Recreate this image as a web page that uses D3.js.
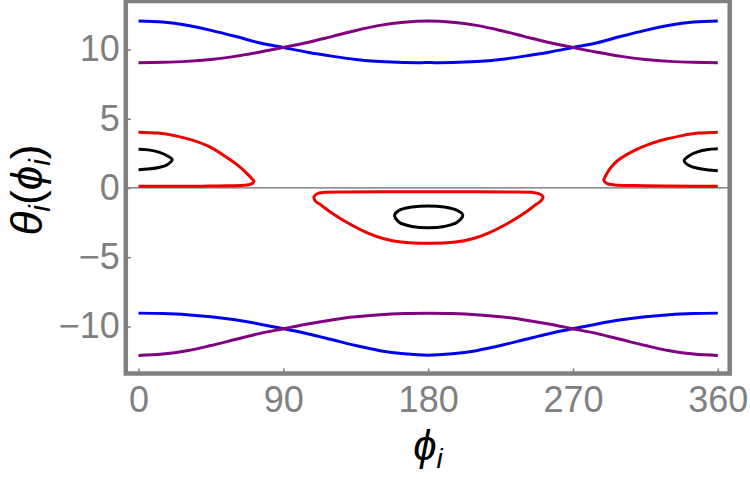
<!DOCTYPE html>
<html>
<head>
<meta charset="utf-8">
<script src="https://cdn.jsdelivr.net/npm/d3@7"></script>
<style>
  html, body { margin: 0; padding: 0; background: #fff; }
  svg { display: block; }
</style>
</head>
<body>
<div id="chart"></div>
<script>
// ---------- data ----------
const phiGrid = [0,15,30,45,60,75,90,105,120,135,150,165,180,195,210,225,240,255,270,285,300,315,330,345,360];

const blueTop   = [12.06,11.98,11.75,11.38,10.95,10.48,10.14,9.80,9.52,9.28,9.13,9.06,9.05,9.06,9.13,9.28,9.52,9.80,10.14,10.48,10.95,11.38,11.75,11.98,12.06];
const purpleTop = [9.04,9.07,9.14,9.28,9.50,9.80,10.14,10.50,10.93,11.37,11.74,11.97,12.06,11.97,11.74,11.37,10.93,10.50,10.14,9.80,9.50,9.28,9.14,9.07,9.04];
const blueBottom   = [-9.04,-9.07,-9.15,-9.30,-9.52,-9.82,-10.17,-10.53,-10.95,-11.38,-11.75,-11.98,-12.08,-11.98,-11.75,-11.38,-10.95,-10.53,-10.17,-9.82,-9.52,-9.30,-9.15,-9.07,-9.04];
const purpleBottom = [-12.1,-12.0,-11.76,-11.38,-10.95,-10.52,-10.17,-9.82,-9.53,-9.30,-9.15,-9.07,-9.05,-9.07,-9.15,-9.30,-9.53,-9.82,-10.17,-10.52,-10.95,-11.38,-11.76,-12.0,-12.1];

// red contour loops [phi, theta]
const redLeft = [[0,4.03],[12,3.96],[23,3.76],[33,3.47],[44,2.98],[54,2.27],[61,1.70],[66,1.20],[69.8,0.75],[71.7,0.47],[70,0.28],[65,0.19],[55,0.15],[40,0.13],[20,0.12],[0,0.12]];
const redRight = [[360,4.03],[348,3.96],[337,3.76],[328.8,3.55],[318.4,3.20],[308,2.70],[298,2.00],[293,1.40],[290.2,0.85],[289.2,0.55],[291,0.33],[296,0.22],[308,0.17],[328,0.14],[345,0.13],[360,0.13]];
const redMiddle = [[109,-0.65],[111,-0.42],[115,-0.32],[130,-0.29],[150,-0.28],[180,-0.28],[210,-0.28],[230,-0.29],[245,-0.32],[249,-0.42],[251.4,-0.65],[250,-0.95],[247,-1.2],[238.5,-1.92],[228.2,-2.64],[217.8,-3.24],[207.5,-3.67],[197,-3.91],[180,-4.0],[163,-3.91],[152.5,-3.67],[142.2,-3.24],[131.8,-2.64],[121.5,-1.92],[113,-1.2],[110,-0.95]];

// black contour loops
const blackLeft = [[0,2.80],[6,2.75],[12.6,2.59],[17.8,2.32],[20.9,2.04],[17.8,1.68],[12.6,1.48],[6,1.36],[0,1.32]];
const blackRight = [[360,2.83],[354,2.77],[347.4,2.60],[342.2,2.33],[339.1,1.97],[342.2,1.62],[347.4,1.42],[354,1.30],[360,1.25]];
const blackMiddle = [[159.2,-1.95],[162,-1.62],[170,-1.38],[180,-1.30],[190,-1.38],[198,-1.62],[201.5,-1.95],[198,-2.48],[190,-2.78],[180,-2.88],[170,-2.78],[162,-2.48]];

const xTicks = [0,90,180,270,360];
const yTicks = [-10,-5,0,5,10];

// ---------- layout ----------
const W = 750, H = 479;
const frame = {left: 125.8, right: 729.7, top: 1, bottom: 373.5};
const gray = "#808080";

const x = d3.scaleLinear().domain([-7.9, 367.4]).range([frame.left, frame.right]);
const y = d3.scaleLinear().domain([-13.4, 13.5]).range([frame.bottom, frame.top]);

const svg = d3.select("#chart").append("svg")
  .attr("width", W).attr("height", H)
  .attr("viewBox", `0 0 ${W} ${H}`);

svg.append("rect").attr("width", W).attr("height", H).attr("fill", "#fff");

svg.append("defs").append("clipPath").attr("id", "plotclip")
  .append("rect")
  .attr("x", frame.left).attr("y", frame.top)
  .attr("width", frame.right - frame.left).attr("height", frame.bottom - frame.top);

const plot = svg.append("g").attr("clip-path", "url(#plotclip)");

// zero line
plot.append("line")
  .attr("x1", frame.left).attr("x2", frame.right)
  .attr("y1", y(0)).attr("y2", y(0))
  .attr("stroke", "#6b6b6b").attr("stroke-width", 1.2);

const sw = 3;
const lineOpen = d3.line().x(d => x(d[0])).y(d => y(d[1])).curve(d3.curveCatmullRom.alpha(0.5));
const lineClosed = d3.line().x(d => x(d[0])).y(d => y(d[1])).curve(d3.curveCatmullRomClosed.alpha(0.5));

function series(vals) { return phiGrid.map((p, i) => [p, vals[i]]); }

const curves = [
  {d: series(blueTop), c: "#0000f0"},
  {d: series(purpleTop), c: "#800080"},
  {d: series(blueBottom), c: "#0000f0"},
  {d: series(purpleBottom), c: "#800080"}
];
curves.forEach(s => {
  plot.append("path").attr("d", lineOpen(s.d))
    .attr("fill", "none").attr("stroke", s.c).attr("stroke-width", sw)
    .attr("stroke-linejoin", "round").attr("stroke-linecap", "butt");
});

[[redLeft, "#ee0000", false], [redRight, "#ee0000", false], [redMiddle, "#ee0000", true],
 [blackLeft, "#000", false], [blackRight, "#000", false], [blackMiddle, "#000", true]].forEach(([pts, c, closed]) => {
  plot.append("path").attr("d", (closed ? lineClosed : lineOpen)(pts))
    .attr("fill", "none").attr("stroke", c).attr("stroke-width", sw)
    .attr("stroke-linejoin", "round");
});

// ---------- axes ----------
const fontFam = "'Liberation Sans', Arial, Helvetica, sans-serif";

const xAxis = d3.axisBottom(x).tickValues(xTicks).tickSize(-5).tickPadding(13).tickFormat(d3.format("d"));
const gx = svg.append("g").attr("transform", `translate(0,${frame.bottom})`).call(xAxis);
gx.select(".domain").remove();
gx.selectAll(".tick line").attr("stroke", gray).attr("stroke-width", 1.6);
gx.selectAll(".tick text").attr("fill", gray).attr("font-size", 36).attr("font-family", fontFam);

const yAxis = d3.axisLeft(y).tickValues(yTicks).tickSize(-5).tickPadding(6).tickFormat(d3.format("d"));
const gy = svg.append("g").attr("transform", `translate(${frame.left},0)`).call(yAxis);
gy.select(".domain").remove();
gy.selectAll(".tick line").attr("stroke", gray).attr("stroke-width", 1.6);
gy.selectAll(".tick text").attr("fill", gray).attr("font-size", 36).attr("font-family", fontFam);

// frame
svg.append("rect")
  .attr("x", frame.left).attr("y", frame.top)
  .attr("width", frame.right - frame.left).attr("height", frame.bottom - frame.top)
  .attr("fill", "none").attr("stroke", gray).attr("stroke-width", 4.5);

// axis labels
const xl = svg.append("text")
  .attr("x", 428).attr("y", 460)
  .attr("text-anchor", "middle")
  .attr("font-family", fontFam).attr("font-size", 42).attr("font-style", "italic").attr("fill", "#000");
xl.append("tspan").text("\u03D5");
xl.append("tspan").attr("font-size", 28).attr("dy", 8).text("i");

const yl = svg.append("text")
  .attr("transform", "translate(42,190) rotate(-90)")
  .attr("text-anchor", "middle")
  .attr("font-family", fontFam).attr("font-size", 44).attr("font-style", "italic").attr("fill", "#000");
yl.append("tspan").text("\u03B8");
yl.append("tspan").attr("font-size", 30).attr("dy", 8).text("i");
yl.append("tspan").attr("dy", -8).attr("font-style", "normal").text("(");
yl.append("tspan").text("\u03D5");
yl.append("tspan").attr("font-size", 30).attr("dy", 8).text("i");
yl.append("tspan").attr("dy", -8).attr("font-style", "normal").text(")");
</script>
</body>
</html>
